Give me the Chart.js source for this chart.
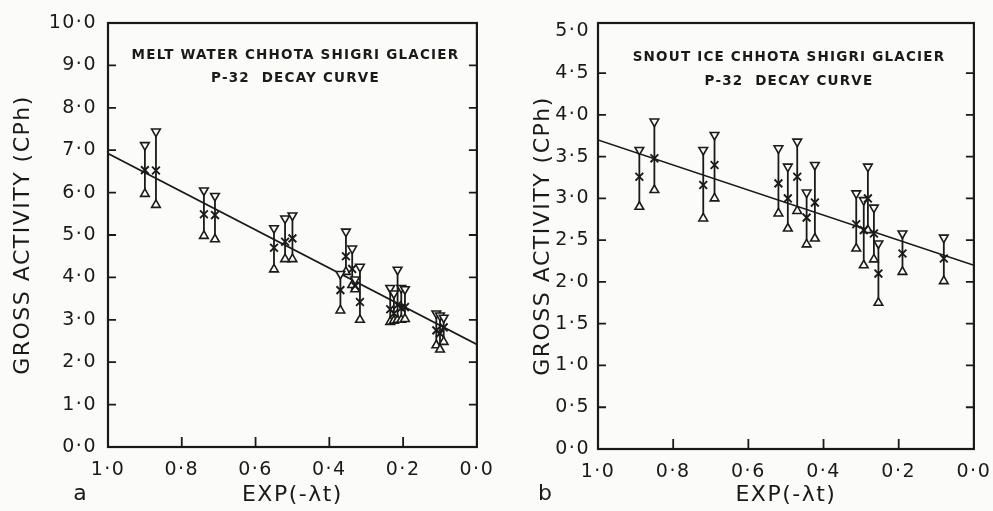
<!DOCTYPE html>
<html>
<head>
<meta charset="utf-8">
<script src="https://cdn.jsdelivr.net/npm/chart.js@4.4.1/dist/chart.umd.min.js"></script>
<style>
  html, body { margin: 0; padding: 0; background: #fbfbf9; }
  #wrap { position: relative; width: 993px; height: 511px; }
  canvas { position: absolute; top: 0; }
  #chartA { left: 0; }
  #chartB { left: 496px; }
</style>
</head>
<body>
<div id="wrap">
  <canvas id="chartA" width="496" height="511"></canvas>
  <canvas id="chartB" width="497" height="511"></canvas>
</div>
<script>
// a: melt water, P-32 decay
const expA = [0.90, 0.87, 0.74, 0.71, 0.55, 0.52, 0.50, 0.37, 0.355, 0.338, 0.33, 0.317,
              0.235, 0.225, 0.215, 0.205, 0.195, 0.11, 0.10, 0.09];
const actA = [6.53, 6.52, 5.49, 5.47, 4.70, 4.84, 4.92, 3.70, 4.50, 4.20, 3.80, 3.42,
              3.25, 3.15, 3.35, 3.28, 3.30, 2.75, 2.68, 2.82];
const hiA  = [7.12, 7.44, 6.05, 5.92, 5.16, 5.39, 5.46, 4.08, 5.08, 4.68, 3.95, 4.25,
              3.75, 3.62, 4.18, 3.75, 3.72, 3.15, 3.10, 3.05];
const loA  = [5.97, 5.71, 4.98, 4.90, 4.19, 4.43, 4.43, 3.22, 4.13, 3.82, 3.72, 3.00,
              2.95, 2.98, 3.00, 3.00, 3.02, 2.40, 2.30, 2.48];
const fitA = [6.92, 2.42];   // fitted line at exp = 1.0 and exp = 0.0

// b: snout ice, P-32 decay
const expB = [0.89, 0.85, 0.72, 0.69, 0.52, 0.495, 0.47, 0.445, 0.423, 0.313, 0.293, 0.282,
              0.266, 0.254, 0.19, 0.08];
const actB = [3.26, 3.48, 3.16, 3.40, 3.18, 3.00, 3.26, 2.77, 2.95, 2.69, 2.62, 3.00,
              2.58, 2.10, 2.34, 2.28];
const hiB  = [3.58, 3.92, 3.58, 3.76, 3.60, 3.38, 3.68, 3.07, 3.40, 3.06, 2.98, 3.38,
              2.89, 2.46, 2.58, 2.53];
const loB  = [2.90, 3.10, 2.76, 3.00, 2.82, 2.64, 2.85, 2.45, 2.52, 2.40, 2.20, 2.62,
              2.27, 1.75, 2.12, 2.01];
const fitB = [3.70, 2.20];

// ticks
const xTickVals = [1.0, 0.8, 0.6, 0.4, 0.2, 0.0];
const xTickLabels = ['1·0', '0·8', '0·6', '0·4', '0·2', '0·0'];
const yTickValsA = [0, 1, 2, 3, 4, 5, 6, 7, 8, 9, 10];
const yTickLabelsA = ['0·0', '1·0', '2·0', '3·0', '4·0', '5·0', '6·0', '7·0', '8·0', '9·0', '10·0'];
const yTickValsB = [0, 0.5, 1, 1.5, 2, 2.5, 3, 3.5, 4, 4.5, 5];
const yTickLabelsB = ['0·0', '0·5', '1·0', '1·5', '2·0', '2·5', '3·0', '3·5', '4·0', '4·5', '5·0'];

const ink = '#1a1a1a';
const paper = '#fbfbf9';
const FONT = 'DejaVu Sans';

// box, inner ticks, heading and panel letter
const framePlugin = {
  id: 'frame',
  beforeDraw(chart) {
    chart.ctx.letterSpacing = '1.5px';
  },
  afterDraw(chart, args, opts) {
    const { ctx, chartArea: a, scales: { x, y } } = chart;
    ctx.save();
    ctx.strokeStyle = ink;
    ctx.lineWidth = 2.2;
    ctx.strokeRect(a.left, a.top, a.right - a.left, a.bottom - a.top);
    ctx.lineWidth = 1.8;
    ctx.beginPath();
    y.ticks.forEach(t => {
      if (t.value <= 0 || t.value >= opts.yTop) return;
      const py = y.getPixelForValue(t.value);
      ctx.moveTo(a.left, py); ctx.lineTo(a.left + 8, py);
      ctx.moveTo(a.right, py); ctx.lineTo(a.right - 8, py);
    });
    x.ticks.forEach(t => {
      if (t.value >= 1 || t.value <= 0) return;
      const px = x.getPixelForValue(t.value);
      ctx.moveTo(px, a.bottom); ctx.lineTo(px, a.bottom - 10);
    });
    ctx.stroke();

    ctx.fillStyle = ink;
    ctx.textAlign = 'center';
    ctx.textBaseline = 'middle';
    ctx.letterSpacing = '1.2px';
    ctx.font = 'bold 13.5px "' + FONT + '"';
    const cx = (a.left + a.right) / 2 + 3;
    ctx.fillText(opts.head[0], cx, opts.headY[0]);
    ctx.fillText(opts.head[1], cx, opts.headY[1]);

    ctx.letterSpacing = '0px';
    ctx.font = '22px "' + FONT + '"';
    ctx.fillText(opts.letter, opts.letterX, 494);
    ctx.restore();
  }
};

function errorBars(xs, lo, hi) {
  const pts = [];
  xs.forEach((v, i) => {
    pts.push({ x: v, y: lo[i] }, { x: v, y: hi[i] }, { x: v, y: null });
  });
  return pts;
}

function pairs(xs, ys) {
  return xs.map((v, i) => ({ x: v, y: ys[i] }));
}

function makePanel(id, cfg) {
  const tickFont = { family: FONT, size: 19 };
  const titleFont = { family: FONT, size: 22 };
  return new Chart(document.getElementById(id), {
    type: 'scatter',
    data: {
      datasets: [
        { data: pairs(cfg.xs, cfg.act), pointStyle: 'crossRot', pointRadius: 5.5,
          borderColor: ink, borderWidth: 1.9, order: 1 },
        { data: pairs(cfg.xs, cfg.hi), pointStyle: 'triangle', rotation: 180, pointRadius: 5,
          borderColor: ink, backgroundColor: paper, borderWidth: 1.6, order: 2 },
        { data: pairs(cfg.xs, cfg.lo), pointStyle: 'triangle', rotation: 0, pointRadius: 5,
          borderColor: ink, backgroundColor: paper, borderWidth: 1.6, order: 2 },
        { data: errorBars(cfg.xs, cfg.lo, cfg.hi), showLine: true, spanGaps: false,
          pointRadius: 0, borderColor: ink, borderWidth: 1.8, order: 3 },
        { data: [{ x: 1, y: cfg.fit[0] }, { x: 0, y: cfg.fit[1] }], showLine: true,
          pointRadius: 0, borderColor: ink, borderWidth: 1.7, order: 4 }
      ]
    },
    options: {
      responsive: false,
      animation: false,
      events: [],
      layout: { padding: { left: cfg.padLeft, right: cfg.padRight, top: 23, bottom: 0 } },
      plugins: {
        legend: { display: false },
        tooltip: { enabled: false },
        frame: { head: cfg.head, headY: cfg.headY, letter: cfg.letter, letterX: cfg.letterX,
                 yTop: cfg.yVals[cfg.yVals.length - 1] }
      },
      scales: {
        x: {
          type: 'linear', reverse: true, min: 0, max: 1,
          afterBuildTicks: s => { s.ticks = xTickVals.map(v => ({ value: v })); },
          afterFit: s => { s.height = cfg.xHeight; },
          grid: { display: false },
          border: { display: false },
          ticks: { callback: (v, i) => xTickLabels[i], font: tickFont, color: ink,
                   padding: 4, maxRotation: 0, autoSkip: false },
          title: { display: true, text: 'EXP(-λt)', font: titleFont, color: ink,
                   padding: { top: 0, bottom: 3 } }
        },
        y: {
          type: 'linear', min: 0, max: cfg.yMax,
          afterBuildTicks: s => { s.ticks = cfg.yVals.map(v => ({ value: v })); },
          afterFit: s => { s.width = cfg.yWidth; },
          grid: { display: false },
          border: { display: false },
          ticks: { callback: (v, i) => cfg.yLabels[i], font: tickFont, color: ink,
                   padding: cfg.yPad, autoSkip: false },
          title: { display: true, text: 'GROSS ACTIVITY (CPh)', font: titleFont, color: ink,
                   padding: { top: 4, bottom: 4 } }
        }
      }
    },
    plugins: [framePlugin]
  });
}

makePanel('chartA', {
  xs: expA, act: actA, hi: hiA, lo: loA, fit: fitA,
  yMax: 10, yVals: yTickValsA, yLabels: yTickLabelsA,
  padLeft: 6, padRight: 9, yWidth: 102, xHeight: 64, yPad: 3,
  head: ['MELT WATER CHHOTA SHIGRI GLACIER', 'P-32  DECAY CURVE'], headY: [55, 78],
  letter: 'a', letterX: 80
});

makePanel('chartB', {
  xs: expB, act: actB, hi: hiB, lo: loB, fit: fitB,
  yMax: 5.1, yVals: yTickValsB, yLabels: yTickLabelsB,
  padLeft: 30, padRight: 16, yWidth: 72, xHeight: 62, yPad: 0,
  head: ['SNOUT ICE CHHOTA SHIGRI GLACIER', 'P-32  DECAY CURVE'], headY: [57, 81],
  letter: 'b', letterX: 49
});
</script>
</body>
</html>
